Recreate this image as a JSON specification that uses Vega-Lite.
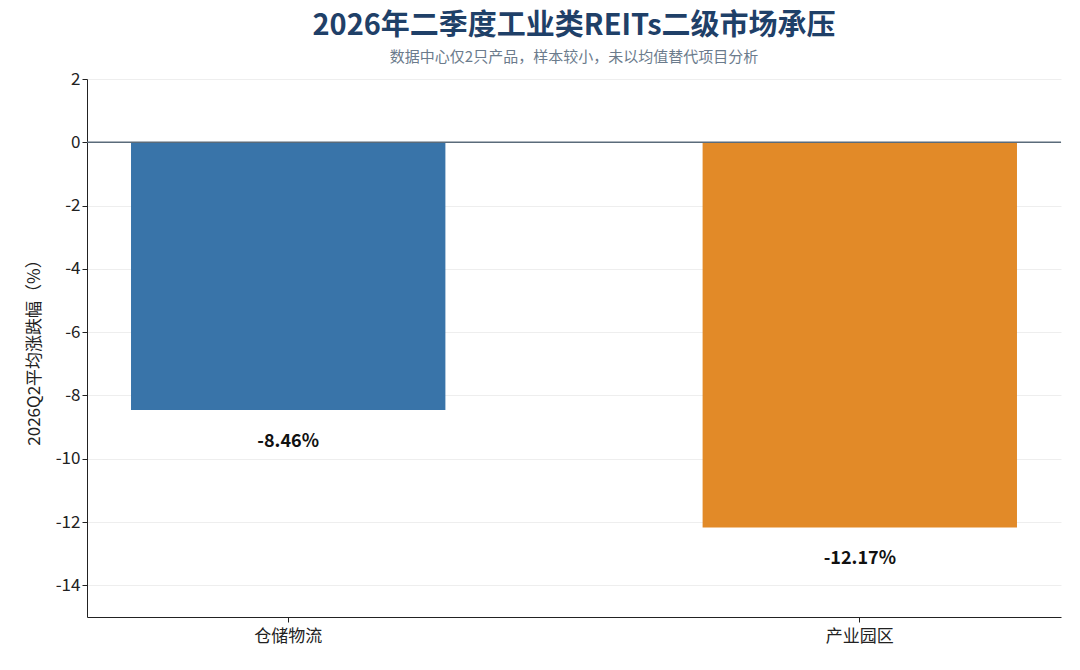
{
"$schema":"https://vega.github.io/schema/vega-lite/v6.json",
"width":974,"height":538,
"padding":{"left":25,"top":12,"right":16,"bottom":5},
"background":"white",
"title":{"text":"2026年二季度工业类REITs二级市场承压","subtitle":"数据中心仅2只产品，样本较小，未以均值替代项目分析","font":"Noto Sans CJK SC","fontSize":29,"fontWeight":"bold","color":"#1f4068","subtitleFont":"Noto Sans CJK SC","subtitleFontSize":15,"subtitleColor":"#6b7b8c","subtitlePadding":9,"offset":5},
"data":{"values":[{"cat":"仓储物流","v":-8.46,"label":"-8.46%"},{"cat":"产业园区","v":-12.17,"label":"-12.17%"}]},
"config":{"view":{"stroke":null},"font":"Noto Sans CJK SC"},
"encoding":{"x":{"field":"cat","type":"nominal","sort":null,"title":null,"scale":{"paddingInner":0.45,"paddingOuter":0.077},"axis":{"labelAngle":0,"labelFontSize":17,"labelColor":"#222","domainColor":"#222","tickColor":"#222","labelPadding":6}}},
"layer":[
{"mark":{"type":"bar","opacity":0.95},"encoding":{"y":{"field":"v","type":"quantitative","scale":{"domain":[-15,2],"nice":false},"title":"2026Q2平均涨跌幅（%）","axis":{"values":[2,0,-2,-4,-6,-8,-10,-12,-14],"labelExpr":"replace(datum.label,'−','-')","labelFontSize":17,"labelColor":"#222","titleFontSize":17,"titleFontWeight":"normal","titleColor":"#222","gridColor":"#eeeeee","domainColor":"#222","tickColor":"#222","titlePadding":12}},"color":{"field":"cat","type":"nominal","legend":null,"scale":{"domain":["仓储物流","产业园区"],"range":["#2e6da4","#e0841c"]}}}},
{"mark":{"type":"text","dy":32,"fontSize":18,"fontWeight":"bold","color":"#111"},"encoding":{"y":{"field":"v","type":"quantitative"},"text":{"field":"label"}}},
{"data":{"values":[{"z":0}]},"mark":{"type":"rule","color":"#5a6b7a","strokeWidth":1.5},"encoding":{"y":{"field":"z","type":"quantitative"},"x":{"value":0},"x2":{"value":974}}}
]
}
